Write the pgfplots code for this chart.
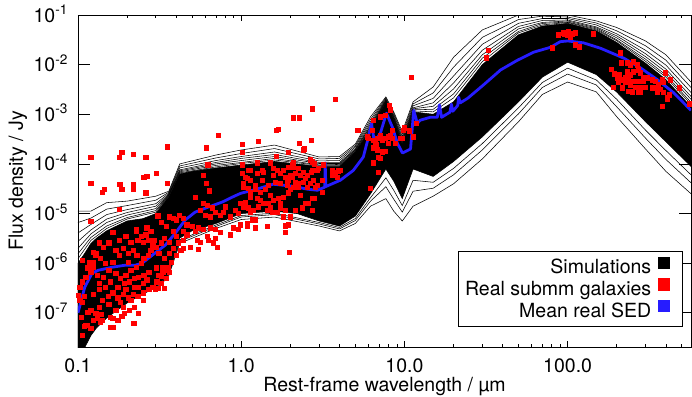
\documentclass[border=0pt]{standalone}
\usepackage{pgfplots}
\pgfplotsset{compat=1.18}
\usepackage{fontspec}
\setmainfont{TeX Gyre Heros}
\definecolor{meanblue}{RGB}{38,28,255}
\pgfplotsset{sim/.style={black, line width=0.55pt, forget plot}}
\begin{document}
\begin{tikzpicture}[font=\fontsize{19.5}{23}\selectfont]
\begin{axis}[
  scale only axis, width=613pt, height=332pt,
  xmode=log, ymode=log,
  xmin=0.1, xmax=570, ymin=2.05e-8, ymax=0.1,
  axis line style={line width=0.8pt},
  tick style={line width=0.8pt, black},
  xtick={0.1,1,10,100}, xticklabels={0.1,1.0,10.0,100.0},
  minor xtick={0.2,0.3,0.4,0.5,0.6,0.7,0.8,0.9,2,3,4,5,6,7,8,9,20,30,40,50,60,70,80,90,200,300,400,500},
  ytick={1e-7,1e-6,1e-5,1e-4,1e-3,1e-2,1e-1},
  yticklabels={10\textsuperscript{-7},10\textsuperscript{-6},10\textsuperscript{-5},10\textsuperscript{-4},10\textsuperscript{-3},10\textsuperscript{-2},10\textsuperscript{-1}},
  yminorticks=false,
  xtick style={/pgfplots/major tick length=6pt, /pgfplots/minor tick length=3.5pt},
  ytick style={/pgfplots/major tick length=12pt},
  xticklabel style={anchor=base, yshift=-25pt},
  yticklabel style={anchor=base east, yshift=-7pt, xshift=-6.5pt},
  xlabel={Rest-frame wavelength / µm},
  ylabel={Flux density / Jy},
  every axis x label/.style={at={(axis description cs:0.5,-0.134)}, anchor=base},
  every axis y label/.style={at={(axis description cs:-0.0979,0.5)}, rotate=90, anchor=center},
  legend cell align=right,
  legend plot pos=right,
  legend style={at={(rel axis cs:1,0)}, anchor=south east, xshift=-8pt, yshift=20pt,
    draw=black, line width=0.8pt, inner xsep=6pt, inner ysep=5pt, row sep=0pt, column sep=6pt,
    nodes={inner sep=1pt, text height=14pt, text depth=3.5pt}},
]
% dense band of simulated SEDs
\addplot[black, fill=black, line width=0.55pt, forget plot] coordinates {
(0.1,1.0e-6) (0.11,1.58e-6) (0.12,2.5e-6) (0.13,3.2e-6) (0.15,4.5e-6) (0.2,7.1e-6) (0.25,7.9e-6) (0.3,1.0e-5) (0.36,2.2e-5) (0.42,6.3e-5) (0.5,7.1e-5) (0.7,8.3e-5) (1.0,9.5e-5) (1.6,1.12e-4) (2.2,1.0e-4) (3.0,8.9e-5) (4.0,8.9e-5) (5.0,1.78e-4) (6.2,5.0e-4) (7.7,1.78e-3) (8.6,7.9e-4) (9.7,2.5e-4) (11.3,1.12e-3) (15,1.0e-3) (20,1.78e-3) (30,1.0e-2) (50,4.0e-2) (70,6.0e-2) (100,6.8e-2) (150,4.8e-2) (200,2.8e-2) (300,1.07e-2) (400,5.0e-3) (570,1.41e-3)
(570,8.9e-5) (400,2.8e-4) (300,7.1e-4) (200,2.8e-3) (150,6.3e-3) (100,1.12e-2) (70,5.6e-3) (50,1.78e-3) (30,3.5e-4) (20,1.12e-4) (15,5.6e-5) (11.3,7.9e-5) (9.7,2.0e-5) (8.6,4.5e-5) (7.7,7.9e-5) (6.2,2.5e-5) (5.0,8.9e-6) (4.0,5.6e-6) (3.0,7.1e-6) (2.2,1.0e-5) (1.6,1.12e-5) (1.0,1.0e-5) (0.7,6.3e-6) (0.5,4.5e-6) (0.42,3.2e-6) (0.36,6.3e-7) (0.3,3.2e-7) (0.25,2.4e-7) (0.2,1.58e-7) (0.15,7.9e-8) (0.13,5.0e-8) (0.12,3.5e-8) (0.11,2.0e-8) (0.1,1.0e-8) (0.1,1.0e-6)
};
% fringe lines above the band
\addplot[sim] coordinates {(0.1,1.12e-5) (0.12,1.12e-5) (0.15,1.66e-5) (0.2,1.78e-5) (0.3,2.24e-5) (0.36,2.82e-5) (0.42,1.0e-4) (0.7,1.51e-4) (1.0,1.91e-4) (1.6,2.40e-4) (3.0,1.38e-4) (4.0,1.41e-4) (5.0,2.51e-4) (6.2,8.9e-4) (7.7,2.24e-3) (8.6,1.12e-3) (9.7,4.47e-4) (11.3,1.78e-3) (15,3.55e-3) (20,1.41e-2) (30,5.0e-2) (50,1.0e-1) (70,1.07e-1) (100,1.0e-1) (150,7.6e-2) (200,5.6e-2) (300,3.0e-2) (400,1.58e-2) (570,4.47e-3)};
\addplot[sim] coordinates {(0.1,6.6e-6) (0.12,8.1e-6) (0.15,1.23e-5) (0.2,1.45e-5) (0.3,1.86e-5) (0.36,2.69e-5) (0.42,9.1e-5) (0.7,1.32e-4) (1.0,1.62e-4) (1.6,2.04e-4) (3.0,1.26e-4) (4.0,1.29e-4) (5.0,2.34e-4) (6.2,7.9e-4) (7.7,2.14e-3) (8.6,1.05e-3) (9.7,4.0e-4) (11.3,1.62e-3) (15,2.69e-3) (20,8.9e-3) (30,3.55e-2) (50,8.1e-2) (70,9.5e-2) (100,9.1e-2) (150,6.9e-2) (200,4.8e-2) (300,2.4e-2) (400,1.23e-2) (570,3.47e-3)};
\addplot[sim] coordinates {(0.1,4.07e-6) (0.12,6.03e-6) (0.15,9.55e-6) (0.2,1.20e-5) (0.3,1.58e-5) (0.36,2.57e-5) (0.42,8.3e-5) (0.7,1.17e-4) (1.0,1.41e-4) (1.6,1.74e-4) (3.0,1.15e-4) (4.0,1.17e-4) (5.0,2.19e-4) (6.2,7.1e-4) (7.7,2.04e-3) (8.6,9.8e-4) (9.7,3.55e-4) (11.3,1.48e-3) (15,2.09e-3) (20,5.9e-3) (30,2.57e-2) (50,6.8e-2) (70,8.5e-2) (100,8.5e-2) (150,6.3e-2) (200,4.17e-2) (300,1.95e-2) (400,9.8e-3) (570,2.75e-3)};
\addplot[sim] coordinates {(0.1,2.75e-6) (0.12,4.68e-6) (0.15,7.76e-6) (0.2,1.05e-5) (0.3,1.41e-5) (0.36,2.45e-5) (0.42,7.59e-5) (0.7,1.07e-4) (1.0,1.29e-4) (1.6,1.55e-4) (3.0,1.07e-4) (4.0,1.07e-4) (5.0,2.04e-4) (6.2,6.46e-4) (7.7,1.95e-3) (8.6,9.1e-4) (9.7,3.24e-4) (11.3,1.35e-3) (15,1.70e-3) (20,4.27e-3) (30,1.95e-2) (50,5.89e-2) (70,7.76e-2) (100,7.94e-2) (150,5.75e-2) (200,3.8e-2) (300,1.66e-2) (400,8.13e-3) (570,2.29e-3)};
\addplot[sim] coordinates {(0.1,2.0e-6) (0.12,3.89e-6) (0.15,6.61e-6) (0.2,9.33e-6) (0.3,1.26e-5) (0.36,2.4e-5) (0.42,7.24e-5) (0.7,1.0e-4) (1.0,1.17e-4) (1.6,1.41e-4) (3.0,1.02e-4) (4.0,1.02e-4) (5.0,1.95e-4) (6.2,5.89e-4) (7.7,1.91e-3) (8.6,8.71e-4) (9.7,2.95e-4) (11.3,1.29e-3) (15,1.45e-3) (20,3.24e-3) (30,1.58e-2) (50,5.25e-2) (70,7.08e-2) (100,7.59e-2) (150,5.5e-2) (200,3.47e-2) (300,1.45e-2) (400,7.08e-3) (570,2.0e-3)};
\addplot[sim] coordinates {(0.1,1.55e-6) (0.12,3.31e-6) (0.15,5.62e-6) (0.2,8.32e-6) (0.3,1.15e-5) (0.36,2.34e-5) (0.42,6.92e-5) (0.7,9.33e-5) (1.0,1.07e-4) (1.6,1.29e-4) (3.0,9.55e-5) (4.0,9.77e-5) (5.0,1.91e-4) (6.2,5.62e-4) (7.7,1.86e-3) (8.6,8.51e-4) (9.7,2.82e-4) (11.3,1.23e-3) (15,1.26e-3) (20,2.57e-3) (30,1.35e-2) (50,4.68e-2) (70,6.76e-2) (100,7.24e-2) (150,5.25e-2) (200,3.16e-2) (300,1.29e-2) (400,6.17e-3) (570,1.74e-3)};
\addplot[sim] coordinates {(0.1,1.23e-6) (0.12,2.88e-6) (0.15,5.01e-6) (0.2,7.76e-6) (0.3,1.07e-5) (0.36,2.29e-5) (0.42,6.61e-5) (0.7,8.71e-5) (1.0,1.02e-4) (1.6,1.20e-4) (3.0,9.33e-5) (4.0,9.33e-5) (5.0,1.82e-4) (6.2,5.25e-4) (7.7,1.82e-3) (8.6,8.13e-4) (9.7,2.63e-4) (11.3,1.17e-3) (15,1.12e-3) (20,2.14e-3) (30,1.15e-2) (50,4.37e-2) (70,6.31e-2) (100,7.08e-2) (150,5.01e-2) (200,3.02e-2) (300,1.17e-2) (400,5.62e-3) (570,1.58e-3)};
% fringe lines below the band
\addplot[sim] coordinates {(0.3,2.82e-7) (0.36,5.62e-7) (0.42,2.51e-6) (0.7,5.01e-6) (1.0,7.59e-6) (1.6,8.51e-6) (3.0,5.62e-6) (4.0,4.47e-6) (5.0,6.31e-6) (6.2,1.41e-5) (7.7,2.0e-5) (8.6,1.12e-5) (9.7,7.08e-6) (11.3,1.41e-5) (15,2.24e-5) (20,3.98e-5) (30,1.26e-4) (50,7.08e-4) (70,2.51e-3) (100,4.47e-3) (150,2.82e-3) (200,8.91e-4) (300,2.0e-4) (400,7.08e-5) (570,2.51e-5)};
\addplot[sim] coordinates {(0.3,2.95e-7) (0.36,5.89e-7) (0.42,2.75e-6) (0.7,5.5e-6) (1.0,8.51e-6) (1.6,9.55e-6) (3.0,6.17e-6) (4.0,4.9e-6) (5.0,7.24e-6) (6.2,1.78e-5) (7.7,3.47e-5) (8.6,1.95e-5) (9.7,1.07e-5) (11.3,2.82e-5) (15,3.24e-5) (20,6.03e-5) (30,1.91e-4) (50,1.02e-3) (70,3.47e-3) (100,6.46e-3) (150,3.89e-3) (200,1.41e-3) (300,3.31e-4) (400,1.23e-4) (570,4.17e-5)};
\addplot[sim] coordinates {(0.3,3.02e-7) (0.36,6.03e-7) (0.42,2.95e-6) (0.7,5.89e-6) (1.0,9.12e-6) (1.6,1.02e-5) (3.0,6.61e-6) (4.0,5.25e-6) (5.0,7.94e-6) (6.2,2.09e-5) (7.7,5.25e-5) (8.6,2.95e-5) (9.7,1.45e-5) (11.3,4.68e-5) (15,4.27e-5) (20,8.13e-5) (30,2.57e-4) (50,1.35e-3) (70,4.37e-3) (100,8.51e-3) (150,4.9e-3) (200,2.0e-3) (300,4.79e-4) (400,1.86e-4) (570,6.03e-5)};
% real submm galaxies
\addplot[red, only marks, mark=square*, mark size=2.1pt, mark options={solid, draw=red, fill=red, line width=0pt}, forget plot] table {
x y
0.120 1.37e-4
0.120 4.1e-5
0.142 2.7e-5
0.146 3.1e-5
0.179 1.37e-4
0.186 1.73e-4
0.181 3.9e-5
0.186 3.0e-5
0.218 1.57e-4
0.218 3.9e-5
0.218 3.0e-5
0.261 1.37e-4
0.254 5.4e-5
0.265 5.6e-5
0.261 2.6e-5
0.301 6.5e-5
0.352 2.2e-4
0.352 4.1e-5
0.179 1.22e-5
0.120 7.0e-6
0.164 4.1e-6
0.227 4.7e-6
0.265 5.1e-6
0.309 8.9e-6
0.611 2.1e-4
0.619 9.5e-5
0.585 5.9e-5
0.637 2.85e-5
0.723 3.8e-4
1.015 2.5e-4
1.015 1.73e-4
1.273 2.85e-4
1.642 4.8e-4
1.69 5.0e-4
1.947 1.73e-4
2.089 8.4e-4
2.275 8.4e-4
2.275 2.6e-4
2.408 1.9e-4
2.695 3.0e-4
2.733 1.28e-3
3.785 1.95e-3
2.733 1.09e-4
3.627 7.2e-5
3.95 7.2e-5
5.16 4.8e-4
1.974 1.66e-6
0.107 1.15e-6
0.124 1.66e-6
0.129 1.58e-6
0.117 1.05e-6
0.125 8.3e-7
0.120 6.6e-7
0.112 5.2e-7
0.107 4.2e-7
0.103 3.2e-7
0.109 2.1e-7
0.107 1.6e-7
0.105 8.1e-8
0.112 5.6e-8
0.124 7.1e-8
0.129 9.8e-8
0.120 1.13e-7
0.135 1.3e-7
0.142 1.79e-7
0.153 2.1e-7
0.164 2.5e-7
0.176 2.0e-7
0.189 2.3e-7
0.197 2.9e-7
0.211 1.79e-7
0.221 1.3e-7
0.206 1.13e-7
0.189 1.3e-7
0.171 1.13e-7
0.159 8.1e-8
0.164 5.1e-8
0.176 7.1e-8
0.192 9.8e-8
0.236 9.8e-8
0.221 6.1e-8
0.142 7.1e-8
0.110 5.4e-8
0.120 4.9e-8
0.138 6.5e-8
0.171 1.82e-6
0.179 1.44e-6
0.189 2.0e-6
0.203 1.58e-6
0.218 1.82e-6
0.233 2.9e-6
0.251 2.65e-6
0.269 2.9e-6
0.288 2.3e-6
0.280 1.82e-6
0.269 1.44e-6
0.254 1.26e-6
0.244 1.0e-6
0.227 8.3e-7
0.211 7.2e-7
0.197 5.7e-7
0.183 5.0e-7
0.171 6.3e-7
0.155 7.2e-7
0.144 5.2e-7
0.135 3.95e-7
0.159 4.2e-7
0.176 3.3e-7
0.192 3.95e-7
0.206 4.2e-7
0.221 5.0e-7
0.236 5.2e-7
0.254 5.7e-7
0.272 6.6e-7
0.301 8.0e-7
0.332 8.3e-7
0.314 5.7e-7
0.301 4.2e-7
0.288 3.3e-7
0.269 2.9e-7
0.251 2.5e-7
0.233 2.1e-7
0.218 2.3e-7
0.347 5.0e-7
0.362 6.6e-7
0.337 3.15e-7
0.323 3.95e-7
0.309 3.15e-7
0.251 3.95e-7
0.236 3.3e-7
0.221 3.3e-7
0.309 9.3e-6
0.323 6.7e-6
0.347 5.4e-6
0.362 8.5e-6
0.383 8.1e-6
0.400 7.4e-6
0.417 9.3e-6
0.441 8.1e-6
0.383 4.3e-6
0.400 3.4e-6
0.362 2.65e-6
0.337 3.2e-6
0.323 2.55e-6
0.301 2.1e-6
0.314 1.58e-6
0.337 1.26e-6
0.362 1.58e-6
0.383 2.0e-6
0.411 2.55e-6
0.441 2.9e-6
0.428 1.82e-6
0.400 1.44e-6
0.372 1.05e-6
0.357 8.3e-7
0.227 4.3e-6
0.244 3.4e-6
0.261 3.7e-6
0.280 4.3e-6
0.292 2.9e-6
0.197 3.4e-6
0.211 2.65e-6
0.179 2.9e-6
0.155 2.55e-6
0.144 2.1e-6
0.135 2.55e-6
0.129 1.44e-6
0.138 1.26e-6
0.148 1.0e-6
0.124 1.05e-6
0.114 5.6e-8
0.131 7.7e-8
0.140 9.3e-8
0.164 7.7e-8
0.186 8.5e-8
0.218 6.1e-8
0.159 5.1e-8
0.251 1.79e-7
0.272 2.9e-7
0.297 3.0e-7
0.323 5.45e-7
0.305 4.2e-7
0.265 4.6e-7
0.357 7.2e-7
0.332 6.6e-7
0.103 1.79e-7
0.106 3.5e-8
0.115 1.03e-7
0.101 2.2e-7
0.115 8.0e-7
0.131 5.7e-7
0.136 2.9e-7
0.148 3.3e-7
0.125 2.3e-7
0.155 1.48e-7
0.183 1.62e-7
0.203 2.0e-7
0.164 1.05e-6
0.203 1.05e-6
0.230 1.44e-6
1.015 6.5e-5
1.09 5.1e-5
1.137 7.5e-5
1.255 6.5e-5
1.347 7.5e-5
1.255 1.04e-4
1.509 1.04e-4
1.575 8.2e-5
1.738 6.5e-5
1.866 5.4e-5
2.002 5.9e-5
2.149 6.5e-5
1.03 4.1e-5
1.105 3.2e-5
1.22 3.0e-5
1.31 2.7e-5
1.406 3.0e-5
1.467 3.7e-5
1.619 4.3e-5
1.738 4.1e-5
1.919 3.7e-5
2.089 3.4e-5
2.243 4.1e-5
1.509 2.3e-5
1.31 1.86e-5
1.137 2.1e-5
1.059 1.7e-5
0.987 1.62e-5
0.92 1.17e-5
0.857 8.5e-6
0.96 1.02e-5
1.105 1.29e-5
1.186 1.17e-5
1.273 1.35e-5
1.467 1.62e-5
1.575 1.86e-5
1.69 2.0e-5
1.813 2.1e-5
1.947 2.6e-5
1.446 1.17e-5
1.552 1.06e-5
1.738 1.29e-5
1.866 1.17e-5
2.002 8.5e-6
1.947 5.9e-6
1.866 4.1e-6
1.446 5.4e-6
1.22 5.1e-6
1.09 6.4e-6
1.169 7.4e-6
0.987 5.9e-6
0.894 5.1e-6
0.96 4.7e-6
0.857 3.7e-6
0.744 4.1e-6
0.693 4.7e-6
0.646 5.1e-6
0.585 4.7e-6
0.545 5.1e-6
0.501 5.4e-6
0.466 5.9e-6
0.441 4.3e-6
0.522 4.3e-6
0.619 3.4e-6
0.693 3.2e-6
0.674 2.55e-6
0.713 2.1e-6
0.628 2.9e-6
0.537 2.9e-6
0.487 2.1e-6
0.441 2.0e-6
0.545 1.9e-6
0.466 3.7e-6
0.561 2.65e-6
0.522 2.1e-5
0.585 1.62e-5
0.619 1.48e-5
0.665 1.29e-5
0.561 1.17e-5
0.602 9.3e-6
0.646 8.5e-6
0.693 1.06e-5
0.744 9.3e-6
0.776 1.06e-5
0.798 1.35e-5
0.628 9.5e-5
0.611 4.1e-5
1.347 4.7e-5
1.666 7.5e-5
2.06 9.5e-5
1.642 1.43e-4
1.813 7.5e-5
1.947 8.6e-5
2.089 1.04e-4
2.243 8.2e-5
2.408 6.8e-5
2.547 5.9e-5
2.733 7.5e-5
2.772 4.7e-5
2.976 8.2e-5
3.149 4.7e-5
3.194 9.5e-5
3.627 7.5e-5
3.785 6.8e-5
4.062 7.5e-5
1.015 9.5e-5
1.105 7.5e-5
1.367 6.8e-5
1.575 5.9e-5
1.919 4.7e-5
2.06 5.4e-5
2.476 5.1e-5
2.657 4.1e-5
2.852 3.4e-5
2.733 2.0e-5
2.476 1.62e-5
2.307 2.3e-5
1.738 1.62e-5
1.22 3.7e-5
1.137 4.7e-5
1.059 5.4e-5
1.03 3.4e-5
1.137 2.6e-5
1.255 2.0e-5
1.367 1.62e-5
1.509 1.29e-5
1.666 1.06e-5
1.813 8.5e-6
2.149 1.17e-5
2.373 1.29e-5
2.733 1.17e-5
1.866 5.6e-6
1.137 1.06e-5
1.22 7.4e-6
1.09 5.4e-6
1.03 1.35e-5
2.442 2.0e-4
2.657 1.2e-4
2.811 1.0e-4
2.089 8.6e-5
2.307 5.9e-5
2.695 6.8e-5
2.934 7.5e-5
2.408 4.3e-5
2.149 4.3e-5
1.947 4.7e-5
2.243 3.4e-5
2.002 3.0e-5
2.547 3.4e-5
2.934 3.7e-5
3.149 2.7e-5
2.811 2.0e-5
2.583 1.62e-5
3.678 6.8e-5
3.627 5.9e-5
3.893 5.4e-5
5.23 4.8e-4
7.15 8.8e-4
8.11 1.48e-3
8.24 1.22e-3
7.15 3.8e-4
6.86 3.3e-4
6.48 3.0e-4
7.36 3.0e-4
7.68 3.3e-4
7.99 3.5e-4
8.24 3.8e-4
8.47 3.3e-4
6.48 2.1e-4
6.86 1.9e-4
7.36 1.81e-4
7.68 1.81e-4
6.67 2.6e-4
7.99 2.6e-4
6.48 1.04e-4
6.96 6.8e-5
7.15 1.31e-4
6.21 3.2e-5
9.77 3.3e-4
10.05 5.3e-4
10.8 4.6e-4
11.9 6.6e-4
11.4 3.5e-4
8.47 4.8e-4
6.48 7.6e-4
5.96 3.5e-4
11.1 5.6e-3
7.68 9.6e-4
6.39 4.8e-4
6.04 3.3e-4
8.85 2.6e-4
9.50 3.3e-4
9.91 4.8e-4
6.96 1.37e-4
7.36 1.73e-4
6.76 2.4e-4
31.8 1.36e-2
32.7 1.9e-2
80.9 2.16e-2
88.1 3.95e-2
94.5 4.34e-2
100 3.95e-2
101.4 4.54e-2
104.3 3.6e-2
107.3 4.14e-2
112 4.34e-2
95.9 4.14e-2
112 2.48e-2
118.5 2.26e-2
144.6 4.14e-2
211.5 1.71e-2
214.5 1.08e-2
186.2 8.1e-3
194.3 6.5e-3
208.5 6.2e-3
211.5 4.9e-3
191.5 3.5e-3
217.6 3.4e-3
233.4 1.08e-2
243.5 9.8e-3
254.1 1.13e-2
268.9 9.8e-3
272.7 7.8e-3
233.4 7.1e-3
226.8 5.6e-3
243.5 6.2e-3
254.1 7.1e-3
280.5 6.8e-3
292.7 5.6e-3
309.7 5.4e-3
236.7 4.9e-3
254.1 4.5e-3
272.7 4.5e-3
292.7 4.5e-3
226.8 4.3e-3
243.5 3.9e-3
261.4 3.5e-3
280.5 3.4e-3
301.1 3.5e-3
236.7 2.9e-3
272.7 2.8e-3
332 4.9e-3
346.7 4.5e-3
337 3.5e-3
361.7 3.9e-3
382.8 4.9e-3
388.3 4.3e-3
356.6 2.8e-3
388.3 2.7e-3
410.9 2.12e-3
428.8 4.9e-3
399.4 6.8e-3
486.7 3.4e-3
382.8 1.46e-3
422.7 2.44e-3
361.7 3.1e-3
332 3.4e-3
562 1.61e-3
250.5 2.8e-3
280.5 2.7e-3
202.6 5.4e-3
205.6 4.3e-3
372.1 3.2e-3
410.9 2.02e-3
};
% mean real SED
\addplot[meanblue, line width=2.8pt, line join=round, forget plot] coordinates {
(0.1,1.0e-7) (0.110,3.3e-7) (0.122,6.3e-7) (0.133,7.2e-7) (0.162,8.3e-7) (0.194,9.1e-7) (0.224,9.1e-7) (0.247,1.0e-6) (0.285,1.45e-6) (0.342,2.3e-6) (0.394,4.0e-6) (0.453,7.4e-6) (0.522,1.07e-5) (0.628,1.35e-5) (0.764,1.7e-5) (0.87,2.1e-5) (0.99,2.55e-5) (1.2,3.0e-5) (1.57,3.9e-5) (2.08,3.55e-5) (2.54,3.1e-5) (2.93,2.95e-5) (3.25,3.4e-5) (3.27,1.05e-4) (3.30,3.5e-5) (4.05,4.7e-5) (4.86,7.4e-5) (5.6,1.38e-4) (6.0,3.3e-4) (6.28,6.6e-4) (6.55,2.75e-4) (7.13,4.2e-4) (7.76,1.05e-3) (8.44,5.5e-4) (9.06,2.6e-4) (9.72,1.66e-4) (10.9,2.0e-4) (11.4,1.2e-3) (12.0,6.6e-4) (12.5,7.6e-4) (14.4,8.7e-4) (15.9,8.7e-4) (16.4,1.55e-3) (16.9,8.7e-4) (19.0,1.1e-3) (19.4,1.6e-3) (19.8,1.15e-3) (21.2,1.5e-3) (21.5,2.2e-3) (22.0,1.7e-3) (24.4,2.1e-3) (30.5,3.9e-3) (38.8,7.8e-3) (49.3,1.23e-2) (61.8,1.78e-2) (78.7,2.24e-2) (90,2.9e-2) (100,3.0e-2) (125,2.75e-2) (159,2.14e-2) (221,1.35e-2) (281,8.5e-3) (357,4.9e-3) (447,2.7e-3) (570,1.2e-3)
};
\addlegendimage{legend image code/.code={\fill[black] (0pt,0pt) rectangle (11pt,11.5pt); \path[draw=none, fill=none] (0pt,0pt) rectangle (18pt,1pt);}}
\addlegendentry{Simulations}
\addlegendimage{legend image code/.code={\fill[red] (0pt,0pt) rectangle (11pt,11.5pt); \path[draw=none, fill=none] (0pt,0pt) rectangle (18pt,1pt);}}
\addlegendentry{Real submm galaxies}
\addlegendimage{legend image code/.code={\fill[meanblue] (0pt,0pt) rectangle (11pt,11.5pt); \path[draw=none, fill=none] (0pt,0pt) rectangle (18pt,1pt);}}
\addlegendentry{Mean real SED}
\end{axis}
\pgfresetboundingbox
\path[use as bounding box] (-78pt,-49pt) rectangle (614pt,347pt);
\end{tikzpicture}
\end{document}
